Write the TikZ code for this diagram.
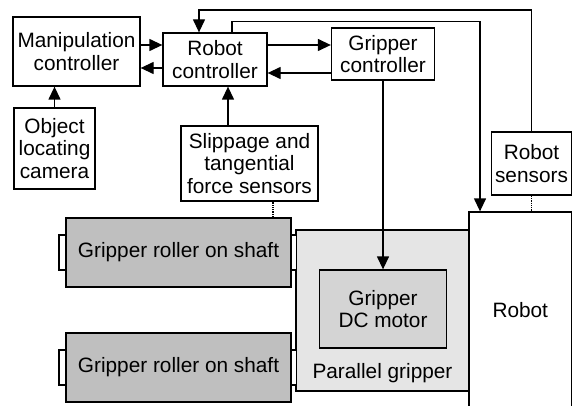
\documentclass[tikz,border=0pt]{standalone}
\usepackage{fontspec}
\setmainfont{Liberation Sans}
\usetikzlibrary{arrows.meta}
\definecolor{rollergray}{gray}{0.75}
\definecolor{motorgray}{gray}{0.83}
\definecolor{grippergray}{gray}{0.9}
\tikzset{box/.style={draw,align=center,inner sep=0pt,line width=1.3pt,fill=white},
  roller/.style={box,fill=rollergray,minimum width=225pt,minimum height=69pt},
  shaft/.style={draw,line width=1.3pt,fill=white},
  arr/.style={-{Triangle[length=13pt,width=12pt]},line width=1.3pt},
  sens/.style={line width=1.3pt,densely dotted}}
\begin{document}
\begin{tikzpicture}[x=1pt,y=-1pt,font=\fontsize{20.8}{22.5}\selectfont]
\useasboundingbox (0,0) rectangle (572,406);
\clip (0,0) rectangle (572,406);
% controllers
\node (manip) [box,minimum width=127pt,minimum height=69pt] at (76.5,51.5) {Manipulation\\controller};
\node (rctrl) [box,minimum width=104pt,minimum height=53pt] at (215,59.5) {Robot\\controller};
\node (gctrl) [box,minimum width=103pt,minimum height=52pt] at (383,54) {Gripper\\controller};
\node (camera) [box,minimum width=81pt,minimum height=81pt] at (54.5,148.5) {Object\\locating\\camera};
\node (slip) [box,minimum width=137pt,minimum height=75pt] at (249.5,163.5) {Slippage and\\tangential\\force sensors};
\node (rsens) [box,minimum width=80pt,minimum height=63pt] at (531.5,163.5) {Robot\\sensors};
% gripper and robot
\node (pgrip) [box,fill=grippergray,minimum width=173pt,minimum height=161pt] at (382.5,310.5) {};
\node (pglabel) [anchor=base] at (382.5,378) {Parallel gripper};
\node (motor) [box,fill=motorgray,minimum width=127pt,minimum height=78pt] at (383,309) {Gripper\\DC motor};
\node (robot) [box,minimum width=102.5pt,minimum height=196pt] at (520.25,310) {Robot};
\node (roller1) [roller] at (178.5,252.5) {Gripper roller on shaft};
\node (roller2) [roller] at (178.5,367.5) {Gripper roller on shaft};
\foreach \r in {roller1,roller2}{
  \draw[shaft] ([yshift=17.5pt]\r.west) rectangle ++(-6.5,35);
  \draw[shaft] ([yshift=17.5pt]\r.east) rectangle ++(5,35);
}
% signal flow
\draw[arr] (manip.east |- 0,45) -- (rctrl.west |- 0,45);
\draw[arr] (rctrl.west |- 0,68) -- (manip.east |- 0,68);
\draw[arr] (rctrl.east |- 0,45) -- (gctrl.west |- 0,45);
\draw[arr] (gctrl.west |- 0,73) -- (rctrl.east |- 0,73);
\draw[arr] (camera.north) -- (camera.north |- manip.south);
\draw[arr] ([xshift=-21.5pt]slip.north) -- ([xshift=-21.5pt]slip.north |- rctrl.south);
\draw[arr] (gctrl.south) -- (motor.north);
\draw[arr] (rsens.north) -- (rsens.north |- 0,10) -| ([xshift=-16pt]rctrl.north);
\draw[arr] ([xshift=17pt]rctrl.north) -- ++(0,-11) -| ([xshift=-40.25pt]robot.north);
\draw[sens] ([xshift=94.5pt]roller1.north) -- ([xshift=94.5pt]roller1.north |- slip.south);
\draw[sens] (rsens.south) -- (rsens.south |- robot.north);
\end{tikzpicture}
\end{document}
